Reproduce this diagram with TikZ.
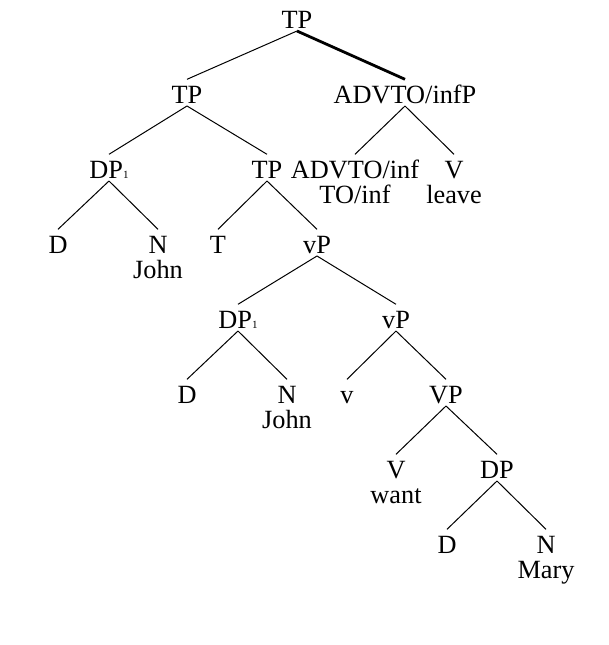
\documentclass[tikz,border=0pt]{standalone}
\usepackage{fontspec}
\setmainfont{Liberation Serif}
\newcommand{\subone}{{\fontsize{11}{11}\selectfont 1}}
\newcommand{\treeedge}[2]{\draw[edge] ([yshift=-2.3pt]#1.south) -- ([yshift=7pt]#2.north);}
\begin{document}
\begin{tikzpicture}[x=1pt,y=-1pt,
  lbl/.style={font=\fontsize{26.3}{26.3}\selectfont, inner sep=0pt, text height=17pt, text depth=0pt, anchor=center},
  edge/.style={line width=1pt},
  heavy/.style={line width=2.8pt}]
\useasboundingbox (0,0) rectangle (608,645);
% level 0
\node[lbl] (tp0) at (297,20) {TP};
% level 1
\node[lbl] (tp1) at (187,95) {TP};
\node[lbl] (advp) at (405,95) {ADVTO/infP};
% level 2
\node[lbl] (dp1) at (109,170) {DP\subone};
\node[lbl] (tp2) at (267,170) {TP};
\node[lbl] (adv) at (355,170) {ADVTO/inf};
\node[lbl] (adv2) at (355,195) {TO/inf};
\node[lbl] (vleave) at (454,170) {V};
\node[lbl] (leave) at (454,195) {leave};
% level 3
\node[lbl] (d1) at (58,245) {D};
\node[lbl] (n1) at (158,245) {N};
\node[lbl] (john1) at (158,270) {John};
\node[lbl] (t1) at (218,245) {T};
\node[lbl] (vp0) at (317,245) {vP};
% level 4
\node[lbl] (dp2) at (238,320) {DP\subone};
\node[lbl] (vp1) at (396,320) {vP};
% level 5
\node[lbl] (d2) at (187,395) {D};
\node[lbl] (n2) at (287,395) {N};
\node[lbl] (john2) at (287,420) {John};
\node[lbl] (v1) at (347,395) {v};
\node[lbl] (bigvp) at (446,395) {VP};
% level 6
\node[lbl] (vwant) at (396,470) {V};
\node[lbl] (want) at (396,495) {want};
\node[lbl] (dp3) at (497,470) {DP};
% level 7
\node[lbl] (d3) at (447,545) {D};
\node[lbl] (n3) at (546,545) {N};
\node[lbl] (mary) at (546,570) {Mary};
% connectors
\treeedge{tp0}{tp1}
\draw[heavy] ([yshift=-2.3pt]tp0.south) -- ([yshift=7pt]advp.north);
\treeedge{tp1}{dp1}
\treeedge{tp1}{tp2}
\treeedge{advp}{adv}
\treeedge{advp}{vleave}
\treeedge{dp1}{d1}
\treeedge{dp1}{n1}
\treeedge{tp2}{t1}
\treeedge{tp2}{vp0}
\treeedge{vp0}{dp2}
\treeedge{vp0}{vp1}
\treeedge{dp2}{d2}
\treeedge{dp2}{n2}
\treeedge{vp1}{v1}
\treeedge{vp1}{bigvp}
\treeedge{bigvp}{vwant}
\treeedge{bigvp}{dp3}
\treeedge{dp3}{d3}
\treeedge{dp3}{n3}
\end{tikzpicture}
\end{document}
